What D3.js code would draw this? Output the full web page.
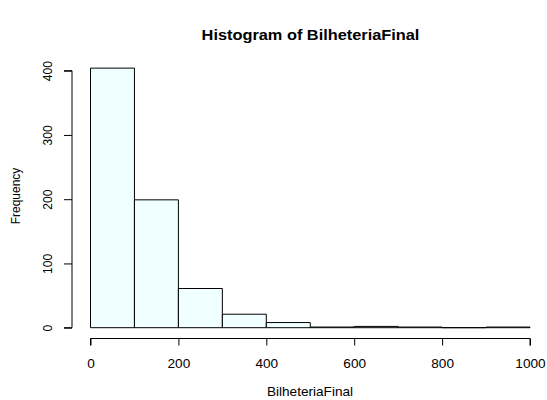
<!DOCTYPE html>
<html><head><meta charset="utf-8">
<script src="https://cdn.jsdelivr.net/npm/d3@7"></script>
<style>body{margin:0;background:#fff}svg{display:block}text{font-family:"Liberation Sans",Arial,sans-serif}</style>
</head><body>
<svg id="c" width="547" height="400"></svg>
<script>
const binStarts = [0,100,200,300,400,500,600,700,800,900];
const binWidth = 100;
const counts = [404,199,61,21,8,1,2,1,0,1];
const xTicks = [0,200,400,600,800,1000];
const yTicks = [0,100,200,300,400];
const title = "Histogram of BilheteriaFinal";
const xLabel = "BilheteriaFinal";
const yLabel = "Frequency";

const sx = 1.135; // horizontal stretch of glyphs in reference
const svg = d3.select("#c");
const x = d3.scaleLinear().domain([0,1000]).range([90.5,530]);
const y = d3.scaleLinear().domain([0,400]).range([327.7,70.7]);

svg.append("g").selectAll("path").data(binStarts).join("path")
  .attr("d",(d,i)=>`M${x(d)},${y(0)}H${x(d+binWidth)}V${y(counts[i])}H${x(d)}Z`)
  .attr("fill","#F0FFFF").attr("stroke","#000").attr("stroke-width",1);

const xAxis = d3.axisBottom(x).tickValues(xTicks).tickSize(7).tickPadding(14).tickFormat(d3.format("d"));
const gx = svg.append("g").attr("transform","translate(0,338.5)").call(xAxis);
gx.select(".domain").attr("d",`M${x(0)},7V0H${x(1000)}V7`);
gx.selectAll(".tick text").attr("font-size",12).attr("fill","#000")
  .attr("transform",`scale(${sx},1)`);

const yAxis = d3.axisLeft(y).tickValues(yTicks).tickSize(8).tickPadding(0).tickFormat(d3.format("d"));
const gy = svg.append("g").attr("transform","translate(72,0)").call(yAxis);
gy.select(".domain").attr("d",`M-8,${y(0)}H0V${y(400)}H-8`);
gy.selectAll(".tick text").attr("font-size",12).attr("fill","#000")
  .attr("text-anchor","middle").attr("x",null).attr("dy",null)
  .attr("transform","translate(-20,0) rotate(-90)");

svg.append("text").attr("transform",`translate(310.5,40) scale(${sx},1)`).attr("text-anchor","middle")
  .attr("font-size",14.4).attr("font-weight","bold").text(title);
svg.append("text").attr("transform",`translate(310,396) scale(${sx},1)`).attr("text-anchor","middle")
  .attr("font-size",12).text(xLabel);
svg.append("text").attr("transform","translate(20,196) rotate(-90)").attr("text-anchor","middle")
  .attr("font-size",12).text(yLabel);
</script>
</body></html>
